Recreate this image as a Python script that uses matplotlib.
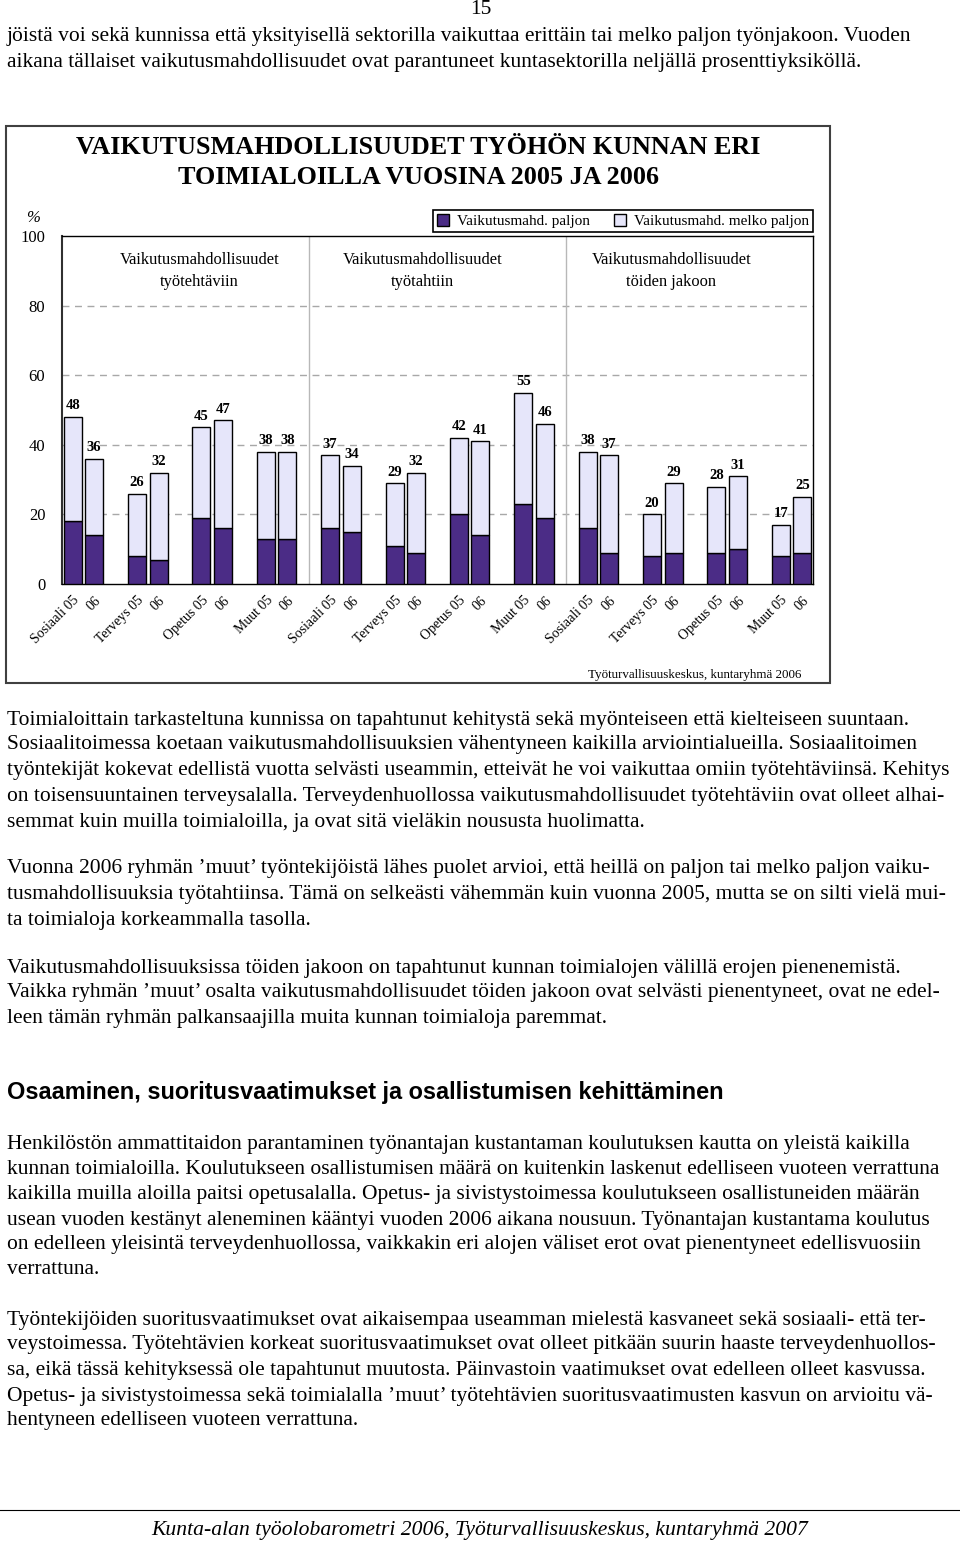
import matplotlib
matplotlib.use('Agg')
import matplotlib.pyplot as plt
from matplotlib.patches import Rectangle

plt.rcParams['font.family'] = ['Liberation Serif', 'DejaVu Serif']

# --- kaavion tiedot ---
ryhmat = ['Vaikutusmahdollisuudet\ntyötehtäviin',
          'Vaikutusmahdollisuudet\ntyötahtiin',
          'Vaikutusmahdollisuudet\ntöiden jakoon']
alat = ['Sosiaali', 'Terveys', 'Opetus', 'Muut']
vuodet = ['05', '06']
yhteensa = [48, 36, 26, 32, 45, 47, 38, 38,
            37, 34, 29, 32, 42, 41, 55, 46,
            38, 37, 20, 29, 28, 31, 17, 25]
paljon = [18, 14, 8, 7, 19, 16, 13, 13,
          16, 15, 11, 9, 20, 14, 23, 19,
          16, 9, 8, 9, 9, 10, 8, 9]
sarjat = ['Vaikutusmahd. paljon', 'Vaikutusmahd. melko paljon']
lahde = 'Työturvallisuuskeskus, kuntaryhmä 2006'

# --- sivun teksti ---
kappaleet = [
    (37, 'jöistä voi sekä kunnissa että yksityisellä sektorilla vaikuttaa erittäin tai melko paljon työnjakoon. Vuoden'),
    (62, 'aikana tällaiset vaikutusmahdollisuudet ovat parantuneet kuntasektorilla neljällä prosenttiyksiköllä.'),
    (720, 'Toimialoittain tarkasteltuna kunnissa on tapahtunut kehitystä sekä myönteiseen että kielteiseen suuntaan.'),
    (745, 'Sosiaalitoimessa koetaan vaikutusmahdollisuuksien vähentyneen kaikilla arviointialueilla. Sosiaalitoimen'),
    (771, 'työntekijät kokevat edellistä vuotta selvästi useammin, etteivät he voi vaikuttaa omiin työtehtäviinsä. Kehitys'),
    (797, 'on toisensuuntainen terveysalalla. Terveydenhuollossa vaikutusmahdollisuudet työtehtäviin ovat olleet alhai-'),
    (822, 'semmat kuin muilla toimialoilla, ja ovat sitä vieläkin nousus' + 'ta huolimatta.'),
    (869, 'Vuonna 2006 ryhmän ’muut’ työntekijöistä lähes puolet arvioi, että heillä on paljon tai melko paljon vaiku-'),
    (894, 'tusmahdollisuuksia työtahtiinsa. Tämä on selkeästi vähemmän kuin vuonna 2005, mutta se on silti vielä mui-'),
    (920, 'ta toimialoja korkeammalla tasolla.'),
    (968, 'Vaikutusmahdollisuuksissa töiden jakoon on tapahtunut kunnan toimialojen välillä erojen pienenemistä.'),
    (993, 'Vaikka ryhmän ’muut’ osalta vaikutusmahdollisuudet töiden jakoon ovat selvästi pienentyneet, ovat ne edel-'),
    (1019, 'leen tämän ryhmän palkansaajilla muita kunnan toimialoja paremmat.'),
    (1144, 'Henkilöstön ammattitaidon parantaminen työnantajan kustantaman koulutuksen kautta on yleistä kaikilla'),
    (1169, 'kunnan toimialoilla. Koulutukseen osallistumisen määrä on kuitenkin laskenut edelliseen vuoteen verrattuna'),
    (1194, 'kaikilla muilla aloilla paitsi opetusalalla. Opetus- ja sivistystoimessa koulutukseen osallistuneiden määrän'),
    (1220, 'usean vuoden kestänyt aleneminen kääntyi vuoden 2006 aikana nousuun. Työnantajan kustantama koulutus'),
    (1245, 'on edelleen yleisintä terveydenhuollossa, vaikkakin eri alojen väliset erot ovat pienentyneet edellisvuosiin'),
    (1270, 'verrattuna.'),
    (1320, 'Työntekijöiden suoritusvaatimukset ovat aikaisempaa useamman mielestä kasvaneet sekä sosiaali- että ter-'),
    (1345, 'veystoimessa. Työtehtävien korkeat suoritusvaatimukset ovat olleet pitkään suurin haaste terveydenhuollos-'),
    (1370, 'sa, eikä tässä kehityksessä ole tapahtunut muutosta. Päinvastoin vaatimukset ovat edelleen olleet kasvussa.'),
    (1396, 'Opetus- ja sivistystoimessa sekä toimialalla ’muut’ työtehtävien suoritusvaatimusten kasvun on arvioitu vä-'),
    (1420, 'hentyneen edelliseen vuoteen verrattuna.'),
]
otsikko = 'Osaaminen, suoritusvaatimukset ja osallistumisen kehittäminen'
alatunniste = 'Kunta-alan työolobarometri 2006, Työturvallisuuskeskus, kuntaryhmä 2007'

tumma = '#4b2c86'
vaalea = '#e6e6fa'

W, H = 960, 1542
fig = plt.figure(figsize=(9.6, 15.42), dpi=100)

# sivupohja pikseleinä
page = fig.add_axes([0, 0, 1, 1])
page.set_xlim(0, W)
page.set_ylim(H, 0)
page.axis('off')

page.text(481, 10, '15', fontsize=15.5, ha='center', va='center')
for y, rivi in kappaleet:
    page.text(7, y, rivi, fontsize=15.5, ha='left', va='center')
page.text(7, 1093, otsikko, fontsize=16.9, fontweight='bold',
          family='Liberation Sans', ha='left', va='center')
page.plot([0, 960], [1510, 1510], color='black', lw=0.8)
page.text(480, 1530, alatunniste, fontsize=15.6, style='italic',
          ha='center', va='center')

# kaavion kehys ja otsikko
page.add_patch(Rectangle((6, 126), 824, 557, fill=False, ec='#404040', lw=1.5))
page.text(418, 147, 'VAIKUTUSMAHDOLLISUUDET TYÖHÖN KUNNAN ERI', fontsize=18.8,
          fontweight='bold', ha='center', va='center')
page.text(418, 178, 'TOIMIALOILLA VUOSINA 2005 JA 2006', fontsize=18.8,
          fontweight='bold', ha='center', va='center')
page.text(33, 218, '%', fontsize=12, style='italic', ha='center', va='center')
page.text(801, 675, lahde, fontsize=9.4, ha='right', va='center')

# pylväät
ax = fig.add_axes([62 / W, 1 - 584 / H, 751 / W, 348 / H])
ax.patch.set_alpha(0)
paikat = [3 * i + j + 0.5 for i in range(12) for j in range(2)]
melko = [t - p for t, p in zip(yhteensa, paljon)]
b1 = ax.bar(paikat, paljon, width=0.84, color=tumma, edgecolor='black', lw=1, zorder=3)
b2 = ax.bar(paikat, melko, bottom=paljon, width=0.84, color=vaalea,
            edgecolor='black', lw=1, zorder=3)
for x, t in zip(paikat, yhteensa):
    ax.text(x, t + 1.3, str(t), ha='center', va='bottom', fontsize=10.5,
            fontweight='bold', zorder=4)

# ryhmien otsikot
for xr, ryhma in zip([6.4, 16.8, 28.4], ryhmat):
    ax.text(xr, 90, ryhma, fontsize=11.9, ha='center', va='center',
            linespacing=1.45, multialignment='center')

ax.set_xlim(0, 35)
ax.set_ylim(0, 100)
ax.set_yticks(range(0, 101, 20))
ax.set_yticklabels([str(v) for v in range(0, 101, 20)], fontsize=12)
ax.set_xticks(paikat)
nimet = []
for r in range(3):
    for ala in alat:
        nimet += [ala + ' ' + vuodet[0], vuodet[1]]
ax.set_xticklabels(nimet, rotation=45, ha='right', rotation_mode='anchor', fontsize=10)
ax.tick_params(axis='both', length=0)
ax.tick_params(axis='y', pad=12)
ax.tick_params(axis='x', pad=7)
for v in range(20, 100, 20):
    ax.axhline(v, color='#a8a8a8', lw=1, ls=(0, (5, 4)), zorder=1)
ax.axvline(11.5, color='#b8b8b8', lw=1, zorder=1)
ax.axvline(23.5, color='#b8b8b8', lw=1, zorder=1)
for s in ax.spines.values():
    s.set_color('black')
    s.set_linewidth(1)
ax.spines['left'].set_linewidth(1.5)
ax.spines['left'].set_color('#303030')

leg = ax.legend([b1, b2], sarjat, ncol=2, loc='lower right', bbox_to_anchor=(1, 1.012),
                fancybox=False, edgecolor='black', framealpha=1, borderaxespad=0,
                fontsize=11, handlelength=0.8, handleheight=0.8, handletextpad=0.5,
                columnspacing=1.6, borderpad=0.25)
leg.get_frame().set_linewidth(1.2)

fig.savefig('out.png', dpi=100)
